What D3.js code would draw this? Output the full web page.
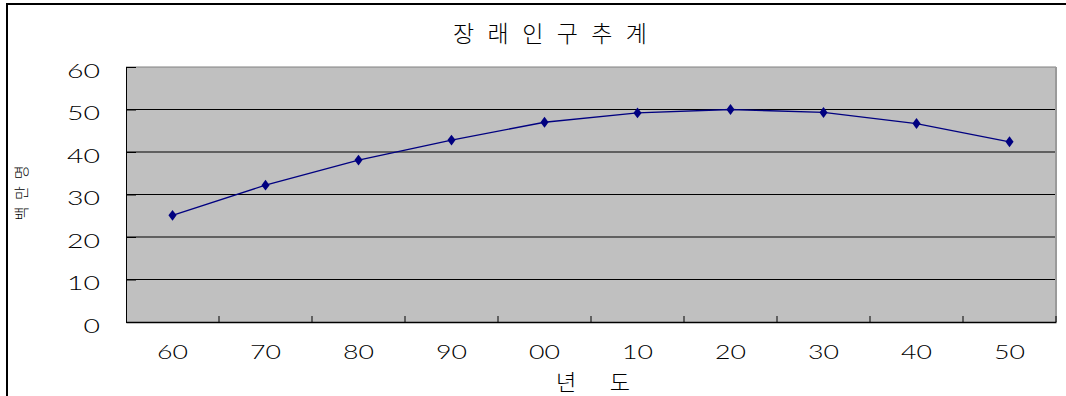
<!DOCTYPE html>
<html>
<head>
<meta charset="utf-8">
<script src="https://cdn.jsdelivr.net/npm/d3@7"></script>
<style>
  html, body { margin: 0; padding: 0; background: #fff; }
  svg { display: block; }
</style>
</head>
<body>
<svg id="chart" width="1066" height="396"></svg>
<script>
// Projected population (millions), by decade 1960 - 2050
const categories = ["60", "70", "80", "90", "00", "10", "20", "30", "40", "50"];
const population = [25.1, 32.2, 38.1, 42.8, 47.0, 49.2, 50.0, 49.3, 46.7, 42.4];
const yTicks = [0, 10, 20, 30, 40, 50, 60];

const titleText = "장래인구추계";
const xTitle = "년 도";
const yTitle = "백만명";

const svg = d3.select("#chart");
const W = 1066, H = 396;
const plot = { left: 126, right: 1056, top: 67, bottom: 322 };

const numFont = "Lato, 'Liberation Sans', Arial, sans-serif";
const krFont = "'Noto Sans CJK KR', 'Noto Sans', sans-serif";

// outer chart frame
svg.append("rect")
  .attr("x", 7).attr("y", 4)
  .attr("width", W + 10).attr("height", H + 10)
  .attr("fill", "#fff").attr("stroke", "#000").attr("stroke-width", 2);

const x = d3.scaleBand().domain(categories).range([plot.left, plot.right]).padding(0);
const y = d3.scaleLinear().domain([0, 60]).range([plot.bottom, plot.top]);

// plot background
svg.append("rect")
  .attr("x", plot.left).attr("y", plot.top)
  .attr("width", plot.right - plot.left).attr("height", plot.bottom - plot.top)
  .attr("fill", "#c0c0c0");

// horizontal gridlines
svg.append("g").selectAll("line")
  .data(yTicks.filter(v => v > 0 && v < 60))
  .join("line")
  .attr("x1", plot.left).attr("x2", plot.right)
  .attr("y1", d => y(d)).attr("y2", d => y(d))
  .attr("stroke", "#000").attr("stroke-width", 1);

// plot area border (top / right)
svg.append("line")
  .attr("x1", plot.left).attr("x2", plot.right)
  .attr("y1", plot.top).attr("y2", plot.top)
  .attr("stroke", "#808080").attr("stroke-width", 1);
svg.append("line")
  .attr("x1", plot.right).attr("x2", plot.right)
  .attr("y1", plot.top).attr("y2", plot.bottom)
  .attr("stroke", "#9a9a9a").attr("stroke-width", 2);

// y axis
const yAxis = svg.append("g")
  .attr("transform", `translate(${plot.left},0)`)
  .call(d3.axisLeft(y).tickValues(yTicks).tickSize(-10).tickPadding(26).tickSizeOuter(0));
yAxis.select(".domain").attr("stroke", "#000");
yAxis.selectAll(".tick line").attr("stroke", "#000");
yAxis.selectAll(".tick text")
  .attr("font-family", numFont).attr("font-size", 19).attr("font-weight", 300).attr("fill", "#000")
  .attr("dy", "0.55em")
  .attr("textLength", d => String(d).length * 16.5)
  .attr("lengthAdjust", "spacingAndGlyphs");

// x axis: labels centred in each band
const xAxis = svg.append("g")
  .attr("transform", `translate(0,${plot.bottom})`)
  .call(d3.axisBottom(x).tickSize(0).tickPadding(24).tickSizeOuter(0));
xAxis.select(".domain").attr("stroke", "#000").attr("stroke-width", 1.5);
xAxis.selectAll(".tick text")
  .attr("font-family", numFont).attr("font-size", 19).attr("font-weight", 300).attr("fill", "#000")
  .attr("textLength", 31)
  .attr("lengthAdjust", "spacingAndGlyphs");

// x tick marks on band boundaries, pointing inward
const boundaries = categories.slice(1).map(c => x(c)).concat([plot.right]);
svg.append("g").selectAll("line")
  .data(boundaries)
  .join("line")
  .attr("x1", d => d).attr("x2", d => d)
  .attr("y1", plot.bottom).attr("y2", plot.bottom - 6)
  .attr("stroke", "#000").attr("stroke-width", 1);

// series line
const pts = categories.map((c, i) => [x(c) + x.bandwidth() / 2, y(population[i])]);
svg.append("path")
  .attr("d", d3.line()(pts))
  .attr("fill", "none")
  .attr("stroke", "#000080")
  .attr("stroke-width", 1.3);

// diamond markers
svg.append("g").selectAll("path")
  .data(pts)
  .join("path")
  .attr("transform", d => `translate(${d[0]},${d[1]}) scale(1.3,1)`)
  .attr("d", d3.symbol().type(d3.symbolDiamond).size(34))
  .attr("fill", "#000080");

// chart title
svg.append("text")
  .attr("x", 550).attr("y", 42)
  .attr("text-anchor", "middle")
  .attr("font-family", krFont).attr("font-size", 23).attr("font-weight", 300).attr("fill", "#000")
  .attr("textLength", 194).attr("lengthAdjust", "spacing")
  .text(titleText);

// x axis title
svg.append("text")
  .attr("x", 593).attr("y", 390)
  .attr("text-anchor", "middle")
  .attr("font-family", krFont).attr("font-size", 22).attr("font-weight", 300).attr("fill", "#000")
  .attr("textLength", 74).attr("lengthAdjust", "spacing")
  .text(xTitle);

// y axis title
svg.append("text")
  .attr("transform", "translate(27,193) rotate(-90)")
  .attr("text-anchor", "middle")
  .attr("font-family", krFont).attr("font-size", 15).attr("font-weight", 300).attr("fill", "#000")
  .attr("textLength", 55).attr("lengthAdjust", "spacing")
  .text(yTitle);
</script>
</body>
</html>
